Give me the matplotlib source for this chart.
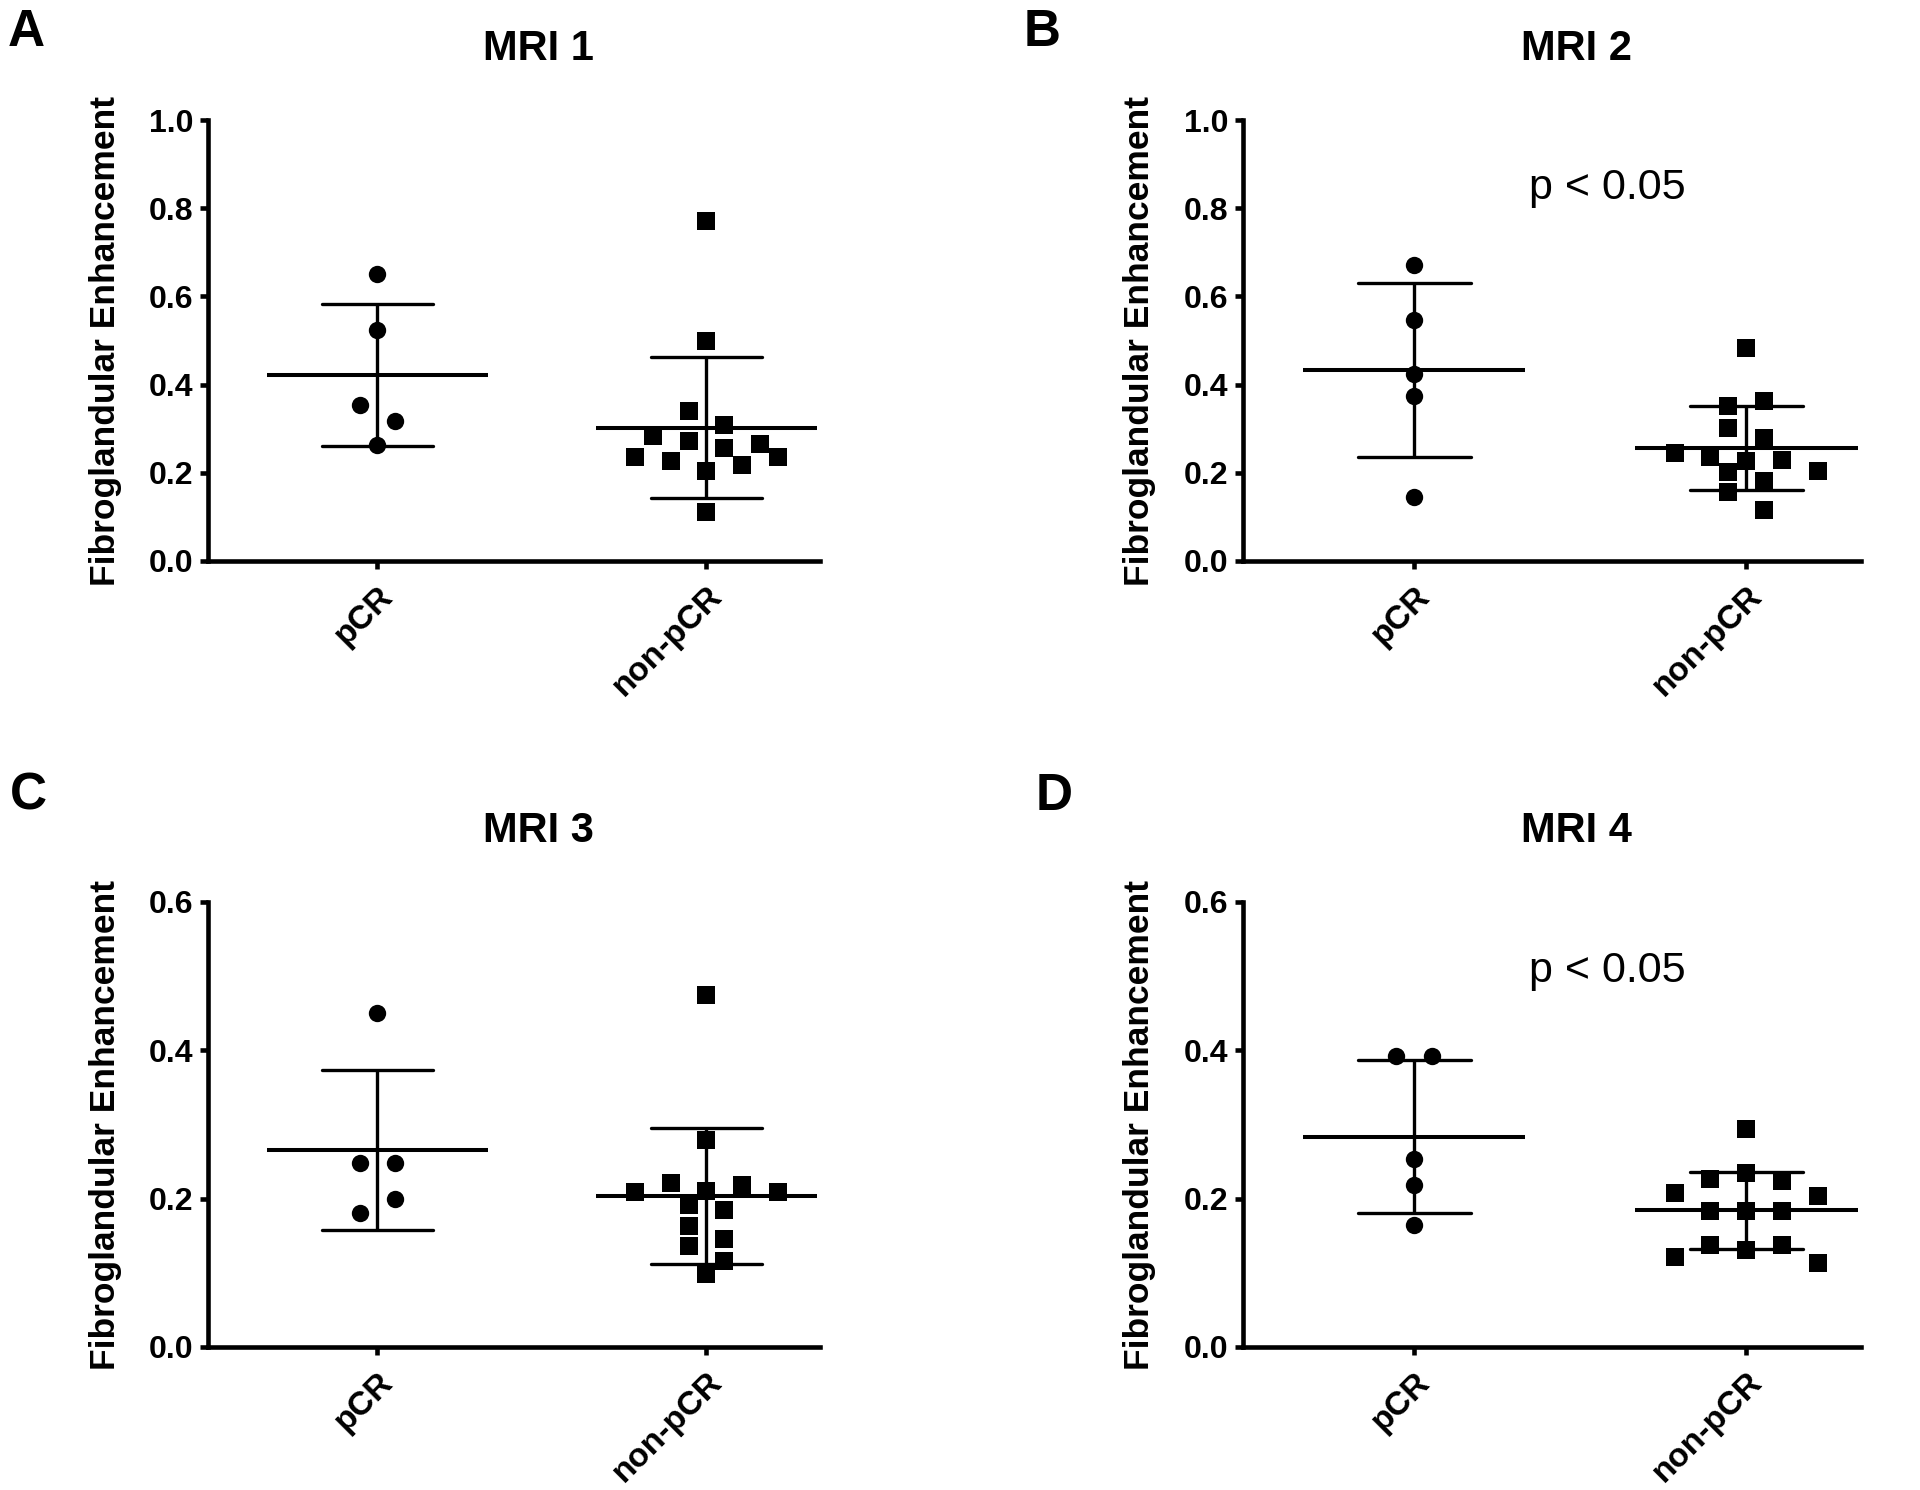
import matplotlib.pyplot as plt
import numpy as np

plt.rcParams['font.family'] = ['Liberation Sans', 'DejaVu Sans']

groups = ['pCR', 'non-pCR']
titles = ['MRI 1', 'MRI 2', 'MRI 3', 'MRI 4']
letters = ['A', 'B', 'C', 'D']
y_max = [1.0, 1.0, 0.6, 0.6]
p_text = [None, 'p < 0.05', None, 'p < 0.05']

# values (order within a row follows left-to-right placement)
mri1_pcr = [0.650, 0.524, 0.353, 0.317, 0.262]
mri1_non = [0.771, 0.500, 0.340, 0.308, 0.283, 0.272, 0.257, 0.265,
            0.236, 0.226, 0.205, 0.217, 0.236, 0.112]
mri2_pcr = [0.672, 0.547, 0.423, 0.374, 0.146]
mri2_non = [0.483, 0.351, 0.362, 0.302, 0.280, 0.246, 0.236, 0.226,
            0.229, 0.205, 0.201, 0.182, 0.156, 0.116]
mri3_pcr = [0.451, 0.248, 0.248, 0.181, 0.199]
mri3_non = [0.475, 0.279, 0.209, 0.221, 0.211, 0.218, 0.209, 0.191,
            0.185, 0.163, 0.146, 0.136, 0.116, 0.098]
mri4_pcr = [0.392, 0.392, 0.253, 0.218, 0.164]
mri4_non = [0.294, 0.226, 0.234, 0.224, 0.207, 0.184, 0.184, 0.184,
            0.204, 0.122, 0.138, 0.131, 0.137, 0.113]

data = [(mri1_pcr, mri1_non), (mri2_pcr, mri2_non),
        (mri3_pcr, mri3_non), (mri4_pcr, mri4_non)]


def swarm_offsets(values, h, step=0.108):
    # group close values into rows, spread each row symmetrically
    values = np.asarray(values, dtype=float)
    order = np.argsort(-values, kind='stable')
    rows, current, start = [], [], None
    for i in order:
        if start is None or values[i] <= start - h:
            if current:
                rows.append(current)
            current, start = [i], values[i]
        else:
            current.append(i)
    rows.append(current)
    offsets = np.zeros(len(values))
    for row in rows:
        row = sorted(row)
        n = len(row)
        for k, i in enumerate(row):
            offsets[i] = (k - (n - 1) / 2) * step
    return offsets


W, H = 1920, 1490
fig = plt.figure(figsize=(W / 100, H / 100), dpi=100)

# axes boxes in pixels: left, top, right, bottom
boxes = [(208, 120, 820, 561), (1243, 120, 1861, 561),
         (208, 902, 820, 1347), (1243, 902, 1861, 1347)]
letter_pos = [(8, 8), (1024, 8), (10, 772), (1036, 772)]

for k in range(4):
    l, t, r, b = boxes[k]
    ax = fig.add_axes([l / W, 1 - b / H, (r - l) / W, (b - t) / H])
    ymax = y_max[k]
    h = 0.0425 * ymax
    for g, (vals, marker, ms) in enumerate(zip(data[k], ['o', 's'], [12.5, 13])):
        vals = np.asarray(vals)
        xs = g + swarm_offsets(vals, h)
        ax.plot(xs, vals, marker, color='black', markersize=ms,
                markeredgewidth=0, clip_on=False, zorder=3)
        m = vals.mean()
        sd = vals.std(ddof=1)
        ax.hlines(m, g - 0.335, g + 0.335, color='black', lw=2.9, zorder=2)
        ax.vlines(g, m - sd, m + sd, color='black', lw=2.4, zorder=2)
        ax.hlines([m - sd, m + sd], g - 0.17, g + 0.17, color='black',
                  lw=2.4, capstyle='round', zorder=2)

    ax.set_xlim(-0.515, 1.345)
    ax.set_ylim(0, ymax)
    ax.set_yticks(np.arange(0, ymax + 0.01, 0.2))
    ax.set_yticklabels(['%.1f' % v for v in np.arange(0, ymax + 0.01, 0.2)],
                       fontsize=23, fontweight='bold')
    ax.set_xticks([0, 1])
    ax.set_xticklabels(groups, rotation=45, ha='right', rotation_mode='anchor',
                       fontsize=24, fontweight='bold')
    for s in ['top', 'right']:
        ax.spines[s].set_visible(False)
    for s in ['left', 'bottom']:
        ax.spines[s].set_linewidth(3.3)
    ax.tick_params(axis='y', length=5.5, width=3.3, pad=5)
    ax.tick_params(axis='x', length=6, width=3.3, pad=8)
    ax.set_ylabel('Fibroglandular Enhancement', fontsize=25.5, fontweight='bold')
    ax.yaxis.set_label_coords(-0.14, 0.5)
    ax.text(0.54, 1.16, titles[k], transform=ax.transAxes, ha='center',
            va='center', fontsize=30, fontweight='bold')
    if p_text[k]:
        ax.text(0.346, 0.845 * ymax, p_text[k], ha='left', va='center',
                fontsize=31)
    fig.text(letter_pos[k][0] / W, 1 - letter_pos[k][1] / H, letters[k],
             ha='left', va='top', fontsize=37, fontweight='bold')

fig.savefig('out.png', dpi=100)
